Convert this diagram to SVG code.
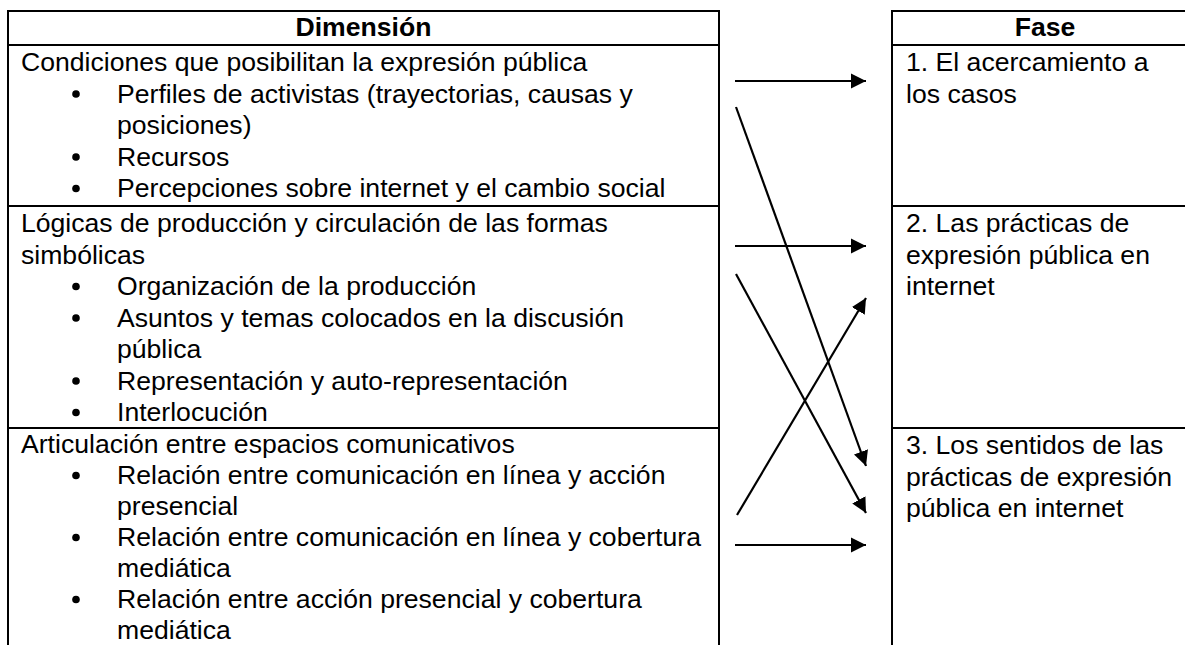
<svg xmlns="http://www.w3.org/2000/svg" width="1185" height="645" viewBox="0 0 1185 645">
  <style>
    .t { font-family: "Liberation Sans", Arial, sans-serif; font-size: 26.6px; fill: #000; }
    .h { font-family: "Liberation Sans", Arial, sans-serif; font-size: 26.6px; font-weight: bold; fill: #000; text-anchor: middle; }
    .b { stroke: #000; stroke-width: 2; fill: none; }
    .c { stroke: #000; stroke-width: 2.2; fill: none; marker-end: url(#ah); }
  </style>
  <defs>
    <marker id="ah" markerUnits="userSpaceOnUse" markerWidth="16" markerHeight="16" refX="15" refY="8" orient="auto">
      <path d="M0,0.5 L15,8 L0,15.5 z" fill="#000"/>
    </marker>
  </defs>
  <rect width="1185" height="645" fill="#fff"/>

  <g id="dimension-table">
    <g id="dimension-borders">
      <path class="b" d="M8,11 H719 M8,45 H719 M8,206 H719 M8,428 H719 M8,10 V645 M719,10 V645"/>
    </g>
    <g id="dimension-header">
      <text class="h" x="363.5" y="36">Dimensión</text>
    </g>
    <g id="dim-row1">
      <text class="t" x="21" y="71">Condiciones que posibilitan la expresión pública</text>
      <circle cx="76" cy="94" r="3.8"/>
      <text class="t" x="117" y="102.5">Perfiles de activistas (trayectorias, causas y</text>
      <text class="t" x="117" y="134">posiciones)</text>
      <circle cx="76" cy="157" r="3.8"/>
      <text class="t" x="117" y="165.5">Recursos</text>
      <circle cx="76" cy="188.5" r="3.8"/>
      <text class="t" x="117" y="197">Percepciones sobre internet y el cambio social</text>
    </g>
    <g id="dim-row2">
      <text class="t" x="21" y="232">Lógicas de producción y circulación de las formas</text>
      <text class="t" x="21" y="263.5">simbólicas</text>
      <circle cx="76" cy="286.5" r="3.8"/>
      <text class="t" x="117" y="295">Organización de la producción</text>
      <circle cx="76" cy="318" r="3.8"/>
      <text class="t" x="117" y="326.5">Asuntos y temas colocados en la discusión</text>
      <text class="t" x="117" y="358">pública</text>
      <circle cx="76" cy="381" r="3.8"/>
      <text class="t" x="117" y="389.5">Representación y auto-representación</text>
      <circle cx="76" cy="412.5" r="3.8"/>
      <text class="t" x="117" y="421">Interlocución</text>
    </g>
    <g id="dim-row3">
      <text class="t" x="21" y="453">Articulación entre espacios comunicativos</text>
      <circle cx="76" cy="475.5" r="3.8"/>
      <text class="t" x="117" y="484">Relación entre comunicación en línea y acción</text>
      <text class="t" x="117" y="515">presencial</text>
      <circle cx="76" cy="537.5" r="3.8"/>
      <text class="t" x="117" y="546">Relación entre comunicación en línea y cobertura</text>
      <text class="t" x="117" y="577">mediática</text>
      <circle cx="76" cy="599.5" r="3.8"/>
      <text class="t" x="117" y="608">Relación entre acción presencial y cobertura</text>
      <text class="t" x="117" y="639">mediática</text>
    </g>
  </g>

  <g id="fase-table">
    <g id="fase-borders">
      <path class="b" d="M892,11 H1185 M892,45 H1185 M892,206 H1185 M892,428 H1185 M892,10 V645"/>
    </g>
    <g id="fase-header">
      <text class="h" x="1045" y="36">Fase</text>
    </g>
    <g id="fase-1">
      <text class="t" x="906" y="71">1. El acercamiento a</text>
      <text class="t" x="906" y="102.5">los casos</text>
    </g>
    <g id="fase-2">
      <text class="t" x="906" y="232">2. Las prácticas de</text>
      <text class="t" x="906" y="263.5">expresión pública en</text>
      <text class="t" x="906" y="295">internet</text>
    </g>
    <g id="fase-3">
      <text class="t" x="906" y="454">3. Los sentidos de las</text>
      <text class="t" x="906" y="485.5">prácticas de expresión</text>
      <text class="t" x="906" y="517">pública en internet</text>
    </g>
  </g>

  <g id="connectors">
    <line class="c" x1="735" y1="81" x2="866" y2="81"/>
    <line class="c" x1="736" y1="107" x2="866" y2="466"/>
    <line class="c" x1="735" y1="246" x2="866" y2="246"/>
    <line class="c" x1="736" y1="274" x2="866" y2="513"/>
    <line class="c" x1="737" y1="515" x2="866" y2="298"/>
    <line class="c" x1="735" y1="545" x2="866" y2="545"/>
  </g>
</svg>
